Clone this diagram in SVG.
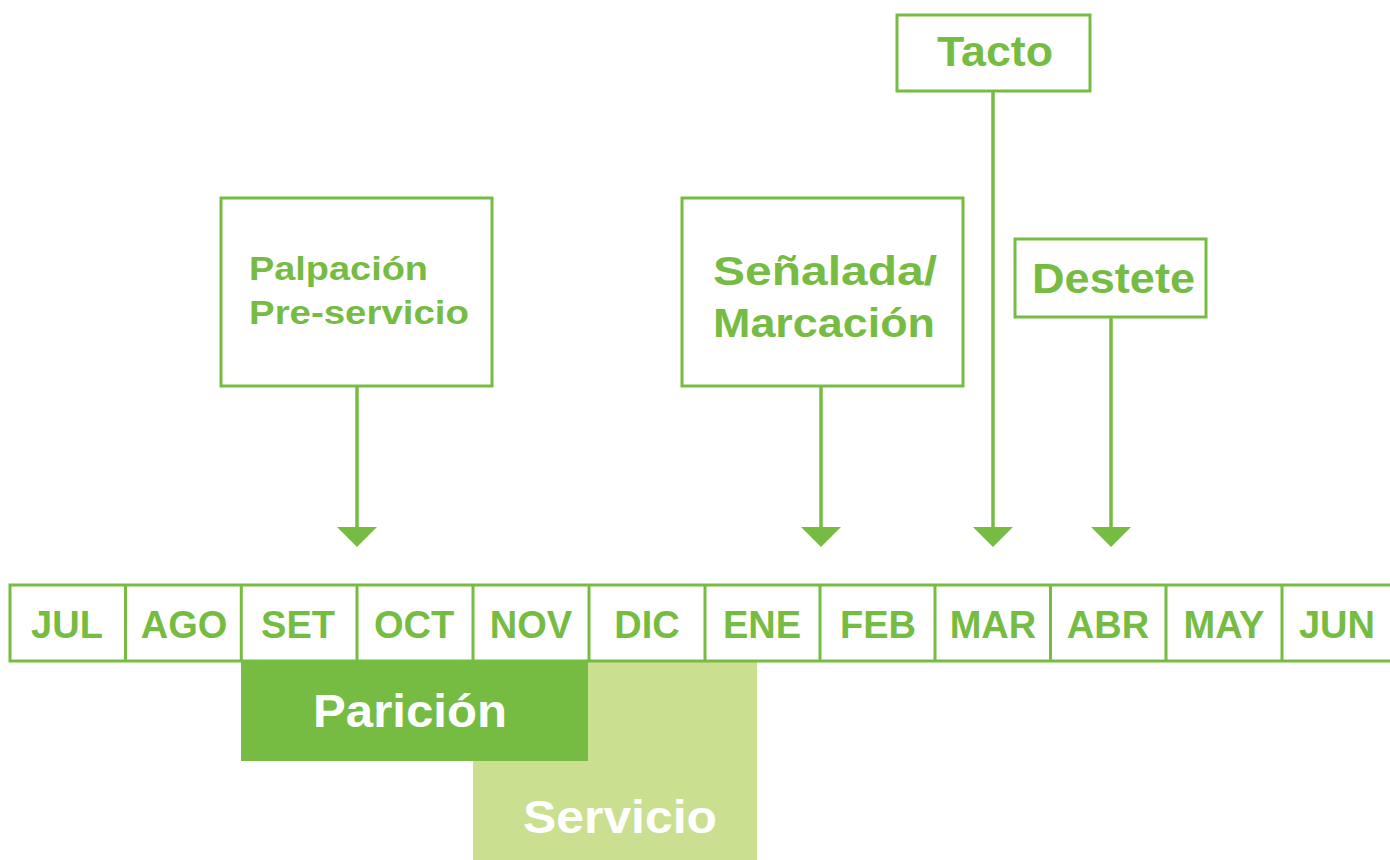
<svg xmlns="http://www.w3.org/2000/svg" width="1390" height="860" viewBox="0 0 1390 860">
<style>
.box{fill:#fff;stroke:#76bc43;stroke-width:3}
.lbl{font-family:"Liberation Sans",Arial,sans-serif;font-weight:bold;fill:#76bc43}
.mon{font-family:"Liberation Sans",Arial,sans-serif;font-weight:bold;fill:#76bc43;font-size:38px;text-anchor:middle}
.band{font-family:"Liberation Sans",Arial,sans-serif;font-weight:bold;fill:#fff;font-size:46px}
.conn{stroke:#76bc43;stroke-width:3.5;fill:none}
.head{fill:#76bc43}
</style>
<rect width="1390" height="860" fill="#fff"/>
<g id="servicio">
<rect x="473" y="661" width="284" height="199" fill="#cbdf90"/>
<text class="band" x="523" y="833" textLength="194" lengthAdjust="spacingAndGlyphs">Servicio</text>
</g>
<g id="paricion">
<rect x="241" y="661" width="347" height="100" fill="#76bc43"/>
<text class="band" x="313" y="727" textLength="194" lengthAdjust="spacingAndGlyphs">Parición</text>
</g>
<g id="timeline">
<rect x="10" y="585" width="1400" height="76" class="box"/>
<path d="M125.5 585V661M241.3 585V661M357 585V661M473 585V661M589 585V661M705 585V661M820 585V661M935 585V661M1050.5 585V661M1166 585V661M1282 585V661" stroke="#76bc43" stroke-width="3"/>
<text class="mon" x="67" y="638">JUL</text>
<text class="mon" x="184" y="638">AGO</text>
<text class="mon" x="298" y="638">SET</text>
<text class="mon" x="414" y="638">OCT</text>
<text class="mon" x="531" y="638">NOV</text>
<text class="mon" x="647" y="638">DIC</text>
<text class="mon" x="762" y="638">ENE</text>
<text class="mon" x="878" y="638">FEB</text>
<text class="mon" x="993" y="638">MAR</text>
<text class="mon" x="1108" y="638">ABR</text>
<text class="mon" x="1224" y="638">MAY</text>
<text class="mon" x="1337" y="638">JUN</text>
</g>
<g id="connectors">
<path class="conn" d="M357 386V530"/>
<polygon class="head" points="337,527 377,527 357,547"/>
<path class="conn" d="M821 386V530"/>
<polygon class="head" points="801,527 841,527 821,547"/>
<path class="conn" d="M993 90V530"/>
<polygon class="head" points="973,527 1013,527 993,547"/>
<path class="conn" d="M1111 317V530"/>
<polygon class="head" points="1091,527 1131,527 1111,547"/>
</g>
<g id="palpacion">
<rect class="box" x="221" y="198" width="271" height="188"/>
<text class="lbl" x="249" y="280" font-size="33" textLength="179" lengthAdjust="spacingAndGlyphs">Palpación</text>
<text class="lbl" x="249" y="324" font-size="33" textLength="220" lengthAdjust="spacingAndGlyphs">Pre-servicio</text>
</g>
<g id="senalada">
<rect class="box" x="682" y="198" width="281" height="188"/>
<text class="lbl" x="713" y="285" font-size="41" textLength="224" lengthAdjust="spacingAndGlyphs">Señalada/</text>
<text class="lbl" x="713" y="337" font-size="41" textLength="222" lengthAdjust="spacingAndGlyphs">Marcación</text>
</g>
<g id="tacto">
<rect class="box" x="897" y="15" width="193" height="76"/>
<text class="lbl" x="937" y="66" font-size="43" textLength="116" lengthAdjust="spacingAndGlyphs">Tacto</text>
</g>
<g id="destete">
<rect class="box" x="1015" y="239" width="191" height="78"/>
<text class="lbl" x="1032" y="293" font-size="43" textLength="163" lengthAdjust="spacingAndGlyphs">Destete</text>
</g>
</svg>
